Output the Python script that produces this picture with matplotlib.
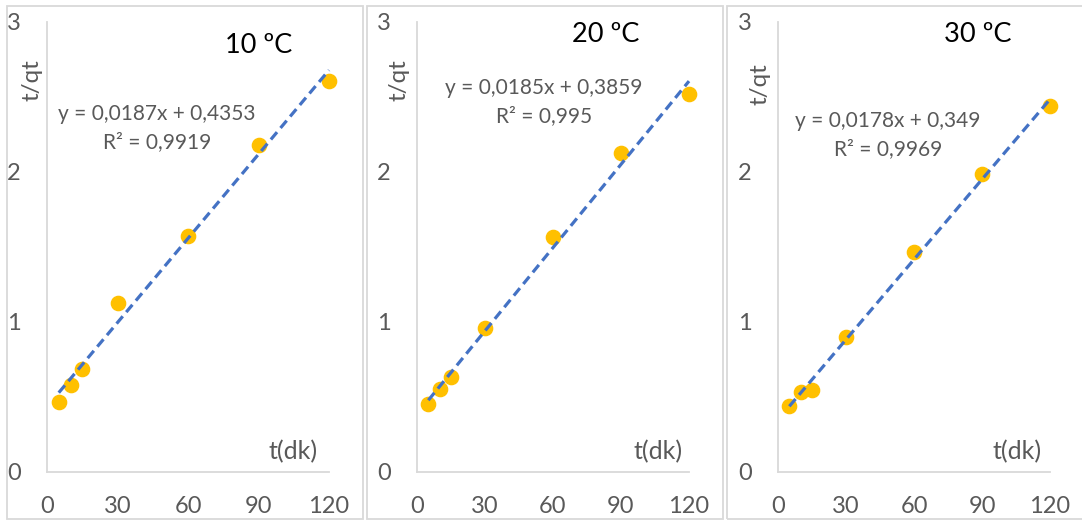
import matplotlib
matplotlib.use('Agg')
import matplotlib.pyplot as plt
from matplotlib.patches import Rectangle
import numpy as np

plt.rcParams['font.family'] = ['Lato', 'DejaVu Sans']

# data
t = [5, 10, 15, 30, 60, 90, 120]
tq_10 = [0.467, 0.58, 0.687, 1.13, 1.575, 2.18, 2.61]
tq_20 = [0.453, 0.553, 0.633, 0.96, 1.567, 2.13, 2.52]
tq_30 = [0.44, 0.533, 0.547, 0.90, 1.47, 1.99, 2.44]
temps = ['10 ºC', '20 ºC', '30 ºC']
slopes = [0.0187, 0.0185, 0.0178]
intercepts = [0.4353, 0.3859, 0.349]
r2 = ['0,9919', '0,995', '0,9969']
eq_text = ['y = 0,0187x + 0,4353', 'y = 0,0185x + 0,3859', 'y = 0,0178x + 0,349']
xticks = [0, 30, 60, 90, 120]
yticks = [0, 1, 2, 3]

W, H = 1082, 522
GRAY = '#595959'
LINE = '#d9d9d9'

fig = plt.figure(figsize=(W / 100, H / 100), dpi=100)

def fx(x):
    return x / W

def fy(y):
    return 1 - y / H

# panel layout in pixels: frame left/right, axes left/right, title pos, eq pos
frames = [(7, 363), (367, 723), (727, 1090)]
axes_x = [(47, 329), (417, 689), (778, 1050)]
title_pos = [(259, 45), (606, 35), (978, 35)]
eq_pos = [(157, 128), (544, 102), (888, 135)]
ylab_x = [32, 399, 760]
ylab_y = [80, 80, 84]
xlab_x = [293, 658, 1017]
series = [tq_10, tq_20, tq_30]

for i in range(3):
    l, r = frames[i]
    fig.patches.append(Rectangle((fx(l), fy(519)), fx(r - l), (519 - 6) / H,
                                 transform=fig.transFigure, fill=False,
                                 edgecolor=LINE, linewidth=1.3))
    x0, x1 = axes_x[i]
    ax = fig.add_axes([fx(x0), fy(472), fx(x1 - x0), 450 / H])
    ax.set_xlim(0, 120)
    ax.set_ylim(0, 3)
    ax.set_facecolor('none')
    for s in ['top', 'right']:
        ax.spines[s].set_visible(False)
    for s in ['left', 'bottom']:
        ax.spines[s].set_color(LINE)
        ax.spines[s].set_linewidth(1.3)
    ax.set_xticks(xticks)
    ax.set_yticks(yticks)
    ax.tick_params(length=0, labelsize=17, labelcolor=GRAY)
    ax.tick_params(axis='x', pad=17)
    ax.tick_params(axis='y', pad=19)

    ax.scatter(t, series[i], s=105, color='#FFC000', zorder=3, clip_on=False)
    xs = np.array([t[0], t[-1]])
    ax.plot(xs, slopes[i] * xs + intercepts[i], color='#4472C4', lw=2.3,
            dashes=(3, 1.7), zorder=4, clip_on=False)

    fig.text(fx(title_pos[i][0]), fy(title_pos[i][1]), temps[i], fontsize=19.5,
             color='black', ha='center', va='center')
    ex, ey = eq_pos[i]
    fig.text(fx(ex), fy(ey), eq_text[i] + '\nR² = ' + r2[i], fontsize=15,
             color=GRAY, ha='center', va='center', linespacing=1.45,
             multialignment='center')
    fig.text(fx(ylab_x[i]), fy(ylab_y[i]), 't/qt', rotation=90, fontsize=17.5,
             color=GRAY, ha='center', va='center')
    fig.text(fx(xlab_x[i]), fy(452), 't(dk)', fontsize=18, color=GRAY,
             ha='center', va='center')

fig.savefig('out.png', dpi=100)
